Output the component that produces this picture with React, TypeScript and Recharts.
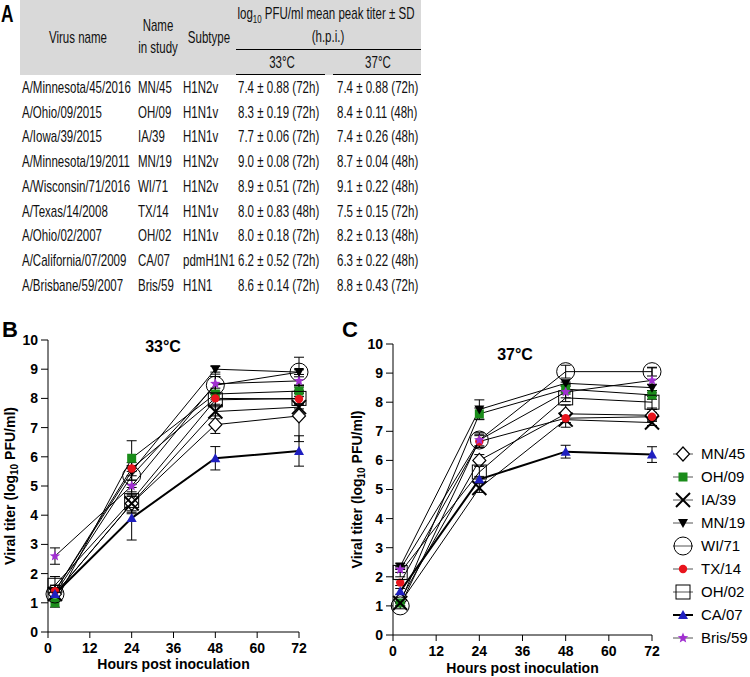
import React from 'react';
import { LineChart, Line, XAxis, YAxis, ErrorBar } from 'recharts';

// ---- table (panel A) ----
const virusNames = [
  'A/Minnesota/45/2016', 'A/Ohio/09/2015', 'A/Iowa/39/2015', 'A/Minnesota/19/2011',
  'A/Wisconsin/71/2016', 'A/Texas/14/2008', 'A/Ohio/02/2007', 'A/California/07/2009', 'A/Brisbane/59/2007',
];
const strains = ['MN/45', 'OH/09', 'IA/39', 'MN/19', 'WI/71', 'TX/14', 'OH/02', 'CA/07', 'Bris/59'];
const subtypes = ['H1N2v', 'H1N1v', 'H1N1v', 'H1N2v', 'H1N2v', 'H1N1v', 'H1N1v', 'pdmH1N1', 'H1N1'];
const peak33 = [
  '7.4 ± 0.88 (72h)', '8.3 ± 0.19 (72h)', '7.7 ± 0.06 (72h)', '9.0 ± 0.08 (72h)', '8.9 ± 0.51 (72h)',
  '8.0 ± 0.83 (48h)', '8.0 ± 0.18 (72h)', '6.2 ± 0.52 (72h)', '8.6 ± 0.14 (72h)',
];
const peak37 = [
  '7.4 ± 0.88 (72h)', '8.4 ± 0.11 (48h)', '7.4 ± 0.26 (48h)', '8.7 ± 0.04 (48h)', '9.1 ± 0.22 (48h)',
  '7.5 ± 0.15 (72h)', '8.2 ± 0.13 (48h)', '6.3 ± 0.22 (48h)', '8.8 ± 0.43 (72h)',
];

// ---- growth curves (panels B, C) ----
const hours = [2, 24, 48, 72];
const xTicks = [0, 12, 24, 36, 48, 60, 72];
const yTicks = [0, 1, 2, 3, 4, 5, 6, 7, 8, 9, 10];

// 33°C means / SD
const mn45At33 = [1.3, 4.4, 7.1, 7.4];
const oh09At33 = [1.0, 5.95, 8.15, 8.25];
const ia39At33 = [1.3, 4.4, 7.55, 7.7];
const mn19At33 = [1.4, 5.5, 9.0, 8.9];
const wi71At33 = [1.3, 5.35, 8.45, 8.9];
const tx14At33 = [1.4, 5.6, 8.0, 7.98];
const oh02At33 = [1.6, 4.5, 7.95, 8.0];
const ca07At33 = [1.3, 3.9, 5.95, 6.2];
const bris59At33 = [2.6, 5.0, 8.5, 8.6];

const mn45Sd33 = [0.15, 0.25, 0.3, 0.88];
const oh09Sd33 = [0.15, 0.6, 0.2, 0.19];
const ia39Sd33 = [0.2, 0.3, 0.25, 0.06];
const mn19Sd33 = [0.2, 0.3, 0.1, 0.08];
const wi71Sd33 = [0.2, 0.3, 0.3, 0.51];
const tx14Sd33 = [0.2, 0.1, 0.83, 0.2];
const oh02Sd33 = [0.3, 0.45, 0.2, 0.18];
const ca07Sd33 = [0.2, 0.75, 0.4, 0.52];
const bris59Sd33 = [0.28, 0.2, 0.25, 0.14];

// 37°C means / SD
const mn45At37 = [1.2, 6.0, 7.6, 7.55];
const oh09At37 = [1.1, 7.6, 8.45, 8.25];
const ia39At37 = [1.1, 5.05, 7.4, 7.3];
const mn19At37 = [2.35, 7.75, 8.65, 8.5];
const wi71At37 = [1.0, 6.7, 9.05, 9.05];
const tx14At37 = [1.8, 6.65, 7.45, 7.5];
const oh02At37 = [2.15, 5.6, 8.15, 8.0];
const ca07At37 = [1.5, 5.35, 6.3, 6.2];
const bris59At37 = [2.25, 6.7, 8.35, 8.75];

const mn45Sd37 = [0.1, 0.2, 0.3, 0.2];
const oh09Sd37 = [0.1, 0.2, 0.11, 0.15];
const ia39Sd37 = [0.1, 0.15, 0.26, 0.1];
const mn19Sd37 = [0.1, 0.33, 0.04, 0.1];
const wi71Sd37 = [0.1, 0.25, 0.22, 0.15];
const tx14Sd37 = [0.1, 0.2, 0.15, 0.15];
const oh02Sd37 = [0.15, 0.2, 0.13, 0.2];
const ca07Sd37 = [0.1, 0.1, 0.22, 0.27];
const bris59Sd37 = [0.1, 0.2, 0.2, 0.43];

const markers = ['diamond', 'gsquare', 'cross', 'down', 'circle', 'dot', 'osquare', 'up', 'star'];

const means33 = [mn45At33, oh09At33, ia39At33, mn19At33, wi71At33, tx14At33, oh02At33, ca07At33, bris59At33];
const sds33 = [mn45Sd33, oh09Sd33, ia39Sd33, mn19Sd33, wi71Sd33, tx14Sd33, oh02Sd33, ca07Sd33, bris59Sd33];
const means37 = [mn45At37, oh09At37, ia39At37, mn19At37, wi71At37, tx14At37, oh02At37, ca07At37, bris59At37];
const sds37 = [mn45Sd37, oh09Sd37, ia39Sd37, mn19Sd37, wi71Sd37, tx14Sd37, oh02Sd37, ca07Sd37, bris59Sd37];

function buildRows(means: number[][], sds: number[][]) {
  return hours.map((h, i) => {
    const row: any = { h };
    strains.forEach((_, k) => {
      row['s' + k] = means[k][i];
      row['e' + k] = sds[k][i];
    });
    return row;
  });
}

const data33 = buildRows(means33, sds33);
const data37 = buildRows(means37, sds37);

function Marker({ kind, cx, cy }: { kind: string; cx: number; cy: number }) {
  switch (kind) {
    case 'diamond':
      return <path d={`M${cx},${cy - 7}L${cx + 6.5},${cy}L${cx},${cy + 7}L${cx - 6.5},${cy}Z`} fill="#fff" stroke="#000" strokeWidth={1.2} />;
    case 'gsquare':
      return <rect x={cx - 4.5} y={cy - 4.5} width={9} height={9} fill="#1a8c1a" />;
    case 'cross':
      return (
        <g stroke="#000" strokeWidth={2}>
          <line x1={cx - 7} y1={cy - 7} x2={cx + 7} y2={cy + 7} />
          <line x1={cx - 7} y1={cy + 7} x2={cx + 7} y2={cy - 7} />
        </g>
      );
    case 'down':
      return <path d={`M${cx - 5},${cy - 4}L${cx + 5},${cy - 4}L${cx},${cy + 5}Z`} fill="#000" />;
    case 'circle':
      return <circle cx={cx} cy={cy} r={9} fill="none" stroke="#000" strokeWidth={1} />;
    case 'dot':
      return <circle cx={cx} cy={cy} r={4.2} fill="#e8141c" />;
    case 'osquare':
      return <rect x={cx - 7} y={cy - 7} width={14} height={14} fill="none" stroke="#000" strokeWidth={1} />;
    case 'up':
      return <path d={`M${cx - 5},${cy + 4}L${cx + 5},${cy + 4}L${cx},${cy - 5}Z`} fill="#1f1fc0" />;
    case 'star': {
      const pts: string[] = [];
      for (let i = 0; i < 10; i++) {
        const r = i % 2 === 0 ? 5.5 : 2.4;
        const a = -Math.PI / 2 + (i * Math.PI) / 5;
        pts.push(`${cx + r * Math.cos(a)},${cy + r * Math.sin(a)}`);
      }
      return <polygon points={pts.join(' ')} fill="#a030d0" />;
    }
    default:
      return null;
  }
}

const axisStyle = { fill: '#000', fontSize: 14, fontWeight: 'bold' as const };

function yLabelAt(dx: number) {
  return (p: any) => {
    const vb = p.viewBox;
    const cx = vb.x + dx;
    const cy = vb.y + vb.height / 2;
    return (
      <text x={cx} y={cy} transform={`rotate(-90 ${cx} ${cy})`} textAnchor="middle" dominantBaseline="central"
        fontSize={14} fontWeight="bold" fill="#000">
        Viral titer (log<tspan fontSize={10} dy={4}>10</tspan><tspan dy={-4}> PFU/ml)</tspan>
      </text>
    );
  };
}

function GrowthChart({ data, width, height, margin, xAxisHeight, labelOffset, yLabelDx }: any) {
  return (
    <LineChart width={width} height={height} data={data} margin={margin}>
      <XAxis dataKey="h" type="number" domain={[0, 72]} ticks={xTicks} interval={0}
        tick={axisStyle} tickSize={6} tickMargin={5} height={xAxisHeight}
        axisLine={{ stroke: '#000' }} tickLine={{ stroke: '#000' }}
        label={{ value: 'Hours post inoculation', position: 'insideBottom', offset: labelOffset, fill: '#000', fontSize: 14, fontWeight: 'bold' }} />
      <YAxis type="number" domain={[0, 10]} ticks={yTicks} interval={0} width={48}
        tick={axisStyle} tickSize={7} tickMargin={3}
        axisLine={{ stroke: '#000' }} tickLine={{ stroke: '#000' }}
        label={{ content: yLabelAt(yLabelDx) }} />
      {strains.map((s, k) => (
        <Line key={s} dataKey={'s' + k} name={s} stroke="#000" strokeWidth={k === 7 ? 2 : 1}
          isAnimationActive={false} activeDot={false}
          dot={(p: any) => <Marker key={s + p.index} kind={markers[k]} cx={p.cx} cy={p.cy} />}>
          <ErrorBar dataKey={'e' + k} direction="y" width={5} stroke="#000" strokeWidth={1} />
        </Line>
      ))}
    </LineChart>
  );
}

function LegendBox() {
  return (
    <svg width={80} height={210} style={{ position: 'absolute', left: 670, top: 443 }}>
      {strains.map((s, k) => {
        const y = 11 + k * 23;
        return (
          <g key={s}>
            <line x1={3} x2={23} y1={y} y2={y} stroke={k === 7 ? '#000' : '#555'} strokeWidth={k === 7 ? 2 : 1} />
            <Marker kind={markers[k]} cx={13} cy={y} />
            <text x={31} y={y + 5} fontSize={15} fill="#000">{s}</text>
          </g>
        );
      })}
    </svg>
  );
}

// narrow table text: regular font squeezed horizontally
const S = 0.72;
const rowY = (i: number) => 87 + i * 24.75;

function Table() {
  return (
    <svg width={750} height={300} style={{ position: 'absolute', left: 0, top: 0 }}>
      <rect x={20} y={0} width={401} height={75} fill="#d9d9d9" />
      <line x1={236} x2={421} y1={49.5} y2={49.5} stroke="#000" strokeWidth={1} />
      <line x1={236} x2={325} y1={74.5} y2={74.5} stroke="#000" strokeWidth={1} />
      <line x1={333} x2={421} y1={74.5} y2={74.5} stroke="#000" strokeWidth={1} />
      <g transform={`scale(${S},1)`} fill="#111" fontSize={16}>
        <text x={1 / S} y={22} fontSize={24} fontWeight="bold" fill="#000">A</text>
        <text x={78 / S} y={43} textAnchor="middle">Virus name</text>
        <text x={158 / S} y={31} textAnchor="middle">Name</text>
        <text x={158 / S} y={53} textAnchor="middle">in study</text>
        <text x={209 / S} y={43} textAnchor="middle">Subtype</text>
        <text x={326 / S} y={19} textAnchor="middle">
          log<tspan fontSize={11} dy={4}>10</tspan><tspan dy={-4}> PFU/ml mean peak titer ± SD</tspan>
        </text>
        <text x={328 / S} y={42} textAnchor="middle">(h.p.i.)</text>
        <text x={282 / S} y={68} textAnchor="middle">33°C</text>
        <text x={378 / S} y={68} textAnchor="middle">37°C</text>
        {virusNames.map((v, i) => (
          <g key={v}>
            <text x={22 / S} y={rowY(i) + 6}>{v}</text>
            <text x={138 / S} y={rowY(i) + 6}>{strains[i]}</text>
            <text x={183 / S} y={rowY(i) + 6}>{subtypes[i]}</text>
            <text x={238 / S} y={rowY(i) + 6}>{peak33[i]}</text>
            <text x={337 / S} y={rowY(i) + 6}>{peak37[i]}</text>
          </g>
        ))}
      </g>
    </svg>
  );
}

export default function App() {
  return (
    <div style={{ position: 'absolute', left: 0, top: 0, width: 750, height: 677, background: '#fff', fontFamily: '"Liberation Sans", Arial, sans-serif' }}>
      <Table />
      <div style={{ position: 'absolute', left: 0, top: 300 }}>
        <GrowthChart data={data33} width={310} height={377} margin={{ top: 40, right: 11, left: 0, bottom: 0 }}
          xAxisHeight={45} labelOffset={8} yLabelDx={10} />
      </div>
      <div style={{ position: 'absolute', left: 345, top: 300 }}>
        <GrowthChart data={data37} width={318} height={377} margin={{ top: 44, right: 11, left: 0, bottom: 0 }}
          xAxisHeight={42} labelOffset={4} yLabelDx={12} />
      </div>
      <LegendBox />
      <svg width={750} height={377} style={{ position: 'absolute', left: 0, top: 300, pointerEvents: 'none' }}>
        <text x={2} y={37} fontSize={22} fontWeight="bold" fill="#000">B</text>
        <text x={342} y={37} fontSize={22} fontWeight="bold" fill="#000">C</text>
        <text x={163} y={52} fontSize={16} fontWeight="bold" textAnchor="middle" fill="#000">33°C</text>
        <text x={515} y={60} fontSize={16} fontWeight="bold" textAnchor="middle" fill="#000">37°C</text>
      </svg>
    </div>
  );
}
